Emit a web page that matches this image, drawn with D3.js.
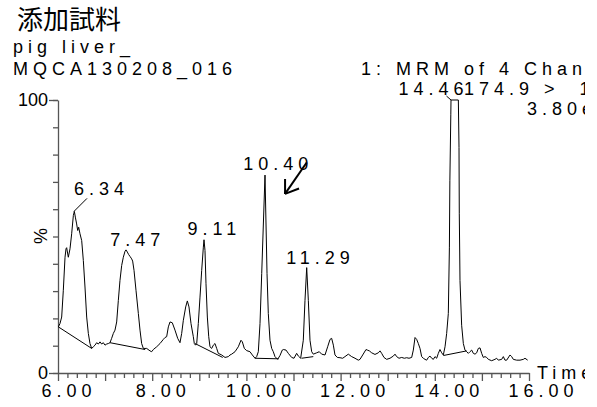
<!DOCTYPE html>
<html>
<head>
<meta charset="utf-8">
<script src="https://cdn.jsdelivr.net/npm/d3@7"></script>
<style>
body { margin: 0; background: #fff; }
svg { display: block; }
text { font-family: "Liberation Sans", Arial, sans-serif; font-size: 18px; fill: #000; }
.sp { letter-spacing: 5px; white-space: pre; }
</style>
</head>
<body>
<div id="chart"></div>
<script>
// chromatogram trace, time (min) / intensity (%)
var times = [6.007,6.042,6.078,6.113,6.149,6.170,6.184,6.219,6.255,6.290,6.326,6.347,6.368,6.396,6.418,6.439,6.467,6.503,6.538,6.573,
  6.609,6.644,6.679,6.715,6.750,6.786,6.821,6.856,6.892,6.927,6.962,6.998,7.033,7.069,7.104,7.139,7.175,7.210,7.246,7.281,
  7.316,7.352,7.387,7.423,7.444,7.472,7.500,7.529,7.564,7.585,7.614,7.656,7.706,7.741,7.776,7.812,7.883,7.953,7.989,8.024,
  8.095,8.166,8.236,8.272,8.307,8.343,8.378,8.427,8.484,8.541,8.590,8.626,8.661,8.711,8.746,8.781,8.824,8.873,8.894,8.920,
  8.945,8.979,9.015,9.051,9.086,9.100,9.121,9.142,9.171,9.200,9.227,9.263,9.298,9.333,9.369,9.404,9.475,9.546,9.616,9.652,
  9.687,9.758,9.828,9.885,9.914,9.956,10.006,10.076,10.126,10.183,10.218,10.253,10.289,10.325,10.395,10.438,10.465,10.501,10.537,10.571,
  10.607,10.664,10.713,10.762,10.784,10.841,10.890,10.961,11.011,11.067,11.103,11.152,11.208,11.244,11.280,11.315,11.350,11.386,11.421,11.492,
  11.548,11.598,11.669,11.725,11.775,11.810,11.846,11.881,11.931,11.987,12.044,12.093,12.164,12.235,12.306,12.376,12.412,12.469,12.539,12.567,
  12.610,12.660,12.730,12.801,12.837,12.872,12.921,12.978,13.049,13.120,13.155,13.190,13.240,13.297,13.353,13.403,13.452,13.509,13.544,13.580,
  13.615,13.650,13.686,13.721,13.757,13.792,13.827,13.863,13.898,13.934,13.969,14.004,14.040,14.075,14.110,14.146,14.181,14.217,14.252,14.287,
  14.310,14.320,14.340,14.344,14.500,14.514,14.520,14.535,14.570,14.606,14.641,14.677,14.712,14.747,14.783,14.818,14.854,14.889,14.924,14.960,
  14.995,15.030,15.066,15.101,15.137,15.207,15.278,15.313,15.349,15.420,15.455,15.490,15.526,15.597,15.632,15.667,15.738,15.809,15.880,15.915,
  15.972];
var intens = [16.9,18.1,20.5,30.3,42.4,45.5,45.9,42.4,45.5,51.0,57.7,59.2,57.1,54.6,52.2,53.4,51.0,48.5,41.2,31.5,
  20.5,14.5,10.8,9.0,9.6,10.2,11.1,10.6,11.4,10.6,11.1,10.2,10.6,10.8,11.1,12.7,14.5,15.7,18.7,26.6,
  33.9,39.4,42.4,44.6,45.1,44.3,43.4,42.7,41.8,41.0,37.6,30.3,21.8,15.7,10.8,9.0,9.0,8.1,7.8,8.6,
  9.6,10.8,12.3,13.0,13.3,16.9,18.7,18.4,15.7,12.7,11.1,14.5,19.3,24.2,26.4,24.2,18.1,13.3,10.8,10.2,
  10.8,18.1,27.8,37.6,46.1,48.8,44.9,32.7,20.5,13.3,9.6,9.0,10.2,10.8,9.0,7.2,6.6,5.7,6.0,6.6,
  6.9,7.8,9.6,12.0,11.4,9.0,8.2,7.8,6.6,5.4,6.0,7.8,18.1,36.4,72.5,36.4,21.8,12.0,9.0,7.8,
  6.0,5.0,6.4,8.4,8.6,8.4,7.2,5.7,5.4,7.2,6.2,5.4,12.0,26.6,38.6,26.6,12.0,7.8,6.9,7.4,
  7.8,6.9,6.6,9.6,12.3,12.7,10.2,6.6,5.7,5.6,5.4,6.0,6.9,6.0,5.4,4.7,5.0,6.6,8.6,8.4,
  8.1,7.4,6.8,7.4,8.1,7.2,5.7,5.0,5.4,6.2,6.9,6.0,5.4,5.7,5.4,5.6,5.4,5.7,8.4,13.0,
  12.3,10.8,9.0,6.0,5.4,5.0,4.7,5.7,6.2,5.4,5.0,6.0,5.4,7.2,8.6,7.4,6.6,9.6,14.5,21.8,
  46.1,70.4,94.8,100,100,82.6,58.3,33.9,17.5,10.8,8.4,7.8,7.2,7.8,8.4,7.2,6.9,7.4,9.0,9.2,
  7.2,5.7,6.0,5.7,5.0,4.5,5.0,5.4,4.7,5.0,6.0,4.7,4.7,6.6,6.0,5.0,4.7,4.7,5.0,5.4,
  4.7];

// integrated peaks
var peakTimes = [6.34, 7.47, 9.11, 10.40, 11.29, 14.46];
var peakTops = [59.2, 45.1, 48.8, 72.5, 38.6, 100];
var peakLabels = ["6.34", "7.47", "9.11", "10.40", "11.29", "14.46"];
// integration baselines [start time, start %, end time, end %]
var baseLines = [[6.007,16.9,6.715,9.0],[7.104,11.1,7.850,8.6],[8.909,10.8,9.497,5.7],
  [10.183,5.4,10.680,5.2],[11.170,5.4,11.420,6.0],[14.181,6.4,14.677,8.1]];

var xLabelTicks = [6, 8, 10, 12, 14, 16];
var yLabelTicks = [0, 100];

// header text
var title = "添加試料";
var sampleLines = ["pig liver_", "MQCA130208_016"];
var headerLines = ["1: MRM of 4 Channels ES+", "174.9 >  128.9", "3.80e5"];

// where the labels sit relative to the peak apex (px)
var labelOffset = [[0,-16],[-17,-4],[-17,-5],[-22,-5],[-21,-4],[-58,-5]];

var x = d3.scaleLinear().domain([6, 16]).range([58, 529]);
var y = d3.scaleLinear().domain([0, 100]).range([373, 100]);

var svg = d3.select("#chart").append("svg")
    .attr("width", 597)
    .attr("height", 407);

// the original picture is cut a little before its right edge
svg.append("defs").append("clipPath").attr("id", "crop")
    .append("rect").attr("width", 585).attr("height", 407);

var g = svg.append("g").attr("clip-path", "url(#crop)");

// title block
g.append("text").attr("x", 17).attr("y", 29)
    .style("font-family", "'Noto Sans CJK JP', sans-serif").style("font-size", "26px")
    .text(title);
g.selectAll(".sample").data(sampleLines).enter().append("text")
    .attr("class", "sp")
    .attr("x", 13).attr("y", function (d, i) { return 53 + i * 22; })
    .text(function (d) { return d; });

g.append("text").attr("class", "sp").attr("x", 361).attr("y", 75).text(headerLines[0]);
g.append("text").attr("class", "sp").attr("x", 464).attr("y", 95).text(headerLines[1]);
g.append("text").attr("class", "sp").attr("x", 527).attr("y", 115).text(headerLines[2]);

// x axis: minor ticks every 0.2 min, longer on whole minutes
var xAxisG = g.append("g").attr("transform", "translate(0,373)")
    .call(d3.axisBottom(x).tickValues(d3.range(0, 51).map(function (i) { return 6 + i * 0.2; }))
        .tickSize(5).tickSizeOuter(0).tickFormat(""));
xAxisG.selectAll(".tick line")
    .attr("y2", function (d) { return Math.abs(d - Math.round(d)) < 1e-6 ? 8 : 5; });

var xLab = g.append("g").attr("transform", "translate(0,373)")
    .call(d3.axisBottom(x).tickValues(xLabelTicks).tickSize(0).tickFormat(d3.format(".2f")));
xLab.select(".domain").remove();
xLab.selectAll("text")
    .attr("class", "sp")
    .attr("text-anchor", "start")
    .attr("y", 11)
    .attr("dx", function (d) { return -(d3.format(".2f")(d).length * 4 + 1); })
    .style("font-size", "18px").style("font-family", "'Liberation Sans', Arial, sans-serif");

// y axis
var yAxisG = g.append("g").attr("transform", "translate(58,0)")
    .call(d3.axisLeft(y).tickValues(d3.range(0, 101, 10)).tickSize(5).tickSizeOuter(0).tickFormat(""));
var yLab = g.append("g").attr("transform", "translate(58,0)")
    .call(d3.axisLeft(y).tickValues(yLabelTicks).tickSize(9).tickPadding(1));
yLab.select(".domain").remove();
yLab.selectAll("text")
    .style("font-size", "18px").style("font-family", "'Liberation Sans', Arial, sans-serif");

g.selectAll(".domain, .tick line").attr("stroke", "#555").attr("stroke-width", 1.3);

g.append("text")
    .attr("transform", "translate(47,236) rotate(-90)")
    .attr("text-anchor", "middle")
    .text("%");

g.append("text").attr("class", "sp").attr("x", 537).attr("y", 379).text("Time");

// trace
var pts = times.map(function (t, i) { return [t, intens[i]]; });
var line = d3.line()
    .x(function (d) { return x(d[0]); })
    .y(function (d) { return y(d[1]); });

g.append("path")
    .attr("d", line(pts))
    .attr("fill", "none")
    .attr("stroke", "#000")
    .attr("stroke-width", 1);

g.selectAll(".base").data(baseLines).enter().append("line")
    .attr("x1", function (d) { return x(d[0]); })
    .attr("y1", function (d) { return y(d[1]); })
    .attr("x2", function (d) { return x(d[2]); })
    .attr("y2", function (d) { return y(d[3]); })
    .attr("stroke", "#000").attr("stroke-width", 1);

// peak labels
g.selectAll(".plab").data(peakLabels).enter().append("text")
    .attr("class", "sp")
    .attr("x", function (d, i) { return x(peakTimes[i]) + labelOffset[i][0]; })
    .attr("y", function (d, i) { return y(peakTops[i]) + labelOffset[i][1]; })
    .text(function (d) { return d; });

// leader lines for 6.34 and 14.46
g.append("line")
    .attr("x1", x(peakTimes[0])).attr("y1", y(peakTops[0]))
    .attr("x2", x(peakTimes[0]) + 13).attr("y2", y(peakTops[0]) - 13)
    .attr("stroke", "#000");
g.append("line")
    .attr("x1", x(14.344)).attr("y1", y(100))
    .attr("x2", x(peakTimes[5]) + labelOffset[5][0] + 48).attr("y2", y(100) - 4)
    .attr("stroke", "#000");

// hand drawn arrow pointing at 10.40
var arrowFrom = [11.28, 77.1], arrowTo = [10.82, 65.6];
var ax0 = x(arrowFrom[0]), ay0 = y(arrowFrom[1]), ax1 = x(arrowTo[0]), ay1 = y(arrowTo[1]);
var ang = Math.atan2(ay0 - ay1, ax0 - ax1);
var arrow = g.append("g").attr("stroke", "#000").attr("stroke-width", 2).attr("fill", "none");
arrow.append("line").attr("x1", ax0).attr("y1", ay0).attr("x2", ax1).attr("y2", ay1);
[-0.6, 0.6].forEach(function (a) {
    arrow.append("line")
        .attr("x1", ax1).attr("y1", ay1)
        .attr("x2", ax1 + 15 * Math.cos(ang + a))
        .attr("y2", ay1 + 15 * Math.sin(ang + a));
});
</script>
</body>
</html>
